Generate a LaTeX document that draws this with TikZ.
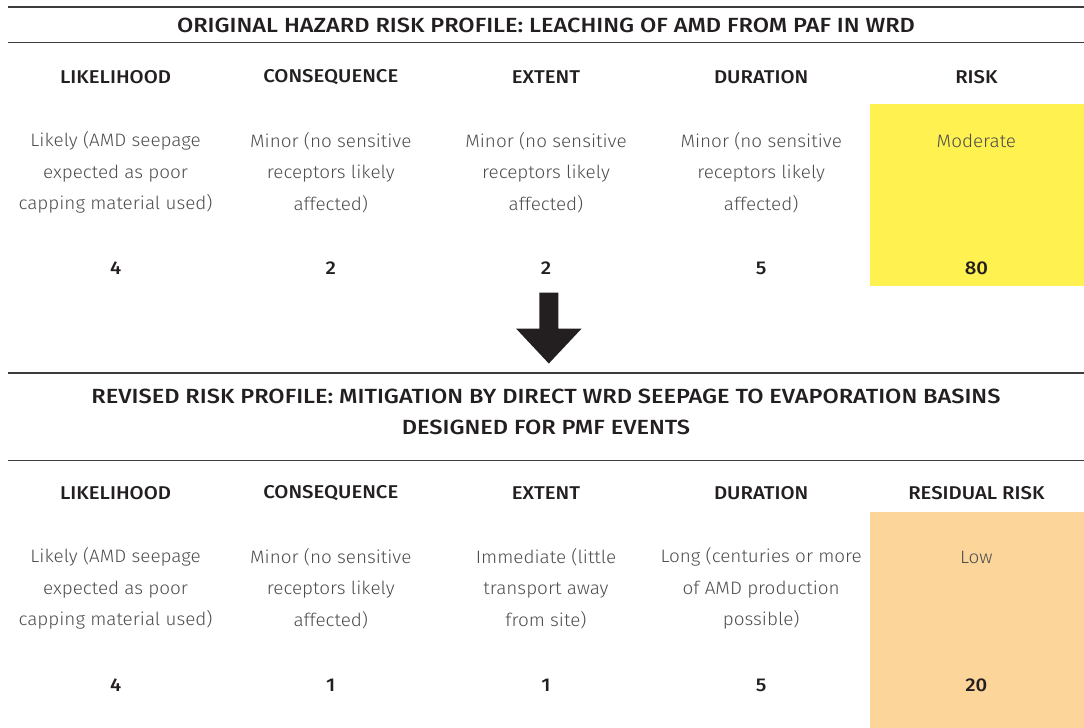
\documentclass[tikz,border=0pt]{standalone}
\usepackage{fontspec}
\setmainfont{Fira Sans}[UprightFont={* Light},BoldFont={* Medium},FakeStretch=1.05]
\newfontfamily\titlefont{Fira Sans Medium}[FakeStretch=1.15]
\newfontfamily\headfont{Fira Sans Medium}[FakeStretch=1.1]
\usetikzlibrary{positioning}
\definecolor{ink}{HTML}{231F20}
\definecolor{bodygray}{HTML}{4D4D4D}
\definecolor{rulegray}{HTML}{3C3C3C}
\definecolor{riskyellow}{HTML}{FFF14F}
\definecolor{riskpeach}{HTML}{FCD59B}
\tikzset{
  title/.style={font=\titlefont\fontsize{20.5}{31}\selectfont, text=ink, align=center, inner sep=0pt},
  colhead/.style={font=\headfont\fontsize{18.5}{20}\selectfont, text=ink, inner sep=0pt},
  body/.style={font=\fontsize{18}{31.6}\selectfont, text=bodygray, align=center, inner sep=0pt},
  num/.style={font=\headfont\fontsize{18.5}{20}\selectfont, text=ink, inner sep=0pt},
  hrule/.style={draw=rulegray, line width=1.4pt}
}
\begin{document}
\begin{tikzpicture}[x=1pt,y=-1pt]
\useasboundingbox (0,0) rectangle (1084,728);
% colored risk cells
\fill[riskyellow] (870,104) rectangle (1084,286);
\fill[riskpeach] (870,512) rectangle (1084,728);
% rules
\draw[hrule] (8,7) -- (1084,7);
\draw[hrule] (8,42.5) -- (1084,42.5);
\draw[hrule] (8,373) -- (1084,373);
\draw[hrule] (8,460.5) -- (1084,460.5);
% top table
\node[title] (t1) at (546,25) {ORIGINAL HAZARD RISK PROFILE: LEACHING OF AMD FROM PAF IN WRD};
\node[colhead] (h11) at (115.6,77) {LIKELIHOOD};
\node[colhead] (h12) at (330.8,77) {CONSEQUENCE};
\node[colhead] (h13) at (546,77) {EXTENT};
\node[colhead] (h14) at (761.2,77) {DURATION};
\node[colhead] (h15) at (976.4,77) {RISK};
\node[body] (b11) at (115.6,172.5) {Likely (AMD seepage\\expected as poor\\capping material used)};
\node[body] (b12) at (330.8,172.5) {Minor (no sensitive\\receptors likely\\affected)};
\node[body] (b13) at (546,172.5) {Minor (no sensitive\\receptors likely\\affected)};
\node[body] (b14) at (761.2,172.5) {Minor (no sensitive\\receptors likely\\affected)};
\node[body] (b15) at (976.4,141) {Moderate};
\node[num] (n11) at (115.6,268.5) {4};
\node[num] (n12) at (330.8,268.5) {2};
\node[num] (n13) at (546,268.5) {2};
\node[num] (n14) at (761.2,268.5) {5};
\node[num] (n15) at (976.4,268.5) {80};
% arrow
\fill[ink] (539.3,292.5) -- (558.3,292.5) -- (558.3,328.5) -- (581.7,328.5) -- (548.8,363.5) -- (516,328.5) -- (539.3,328.5) -- cycle;
% bottom table
\node[title] (t2) at (546,411.5) {REVISED RISK PROFILE: MITIGATION BY DIRECT WRD SEEPAGE TO EVAPORATION BASINS\\DESIGNED FOR PMF EVENTS};
\node[colhead] (h21) at (115.6,493) {LIKELIHOOD};
\node[colhead] (h22) at (330.8,493) {CONSEQUENCE};
\node[colhead] (h23) at (546,493) {EXTENT};
\node[colhead] (h24) at (761.2,493) {DURATION};
\node[colhead] (h25) at (976.4,493) {RESIDUAL RISK};
\node[body] (b21) at (115.6,588.5) {Likely (AMD seepage\\expected as poor\\capping material used)};
\node[body] (b22) at (330.8,588.5) {Minor (no sensitive\\receptors likely\\affected)};
\node[body] (b23) at (546,588.5) {Immediate (little\\transport away\\from site)};
\node[body] (b24) at (761.2,588.5) {Long (centuries or more\\of AMD production\\possible)};
\node[body] (b25) at (976.4,557) {Low};
\node[num] (n21) at (115.6,685) {4};
\node[num] (n22) at (330.8,685) {1};
\node[num] (n23) at (546,685) {1};
\node[num] (n24) at (761.2,685) {5};
\node[num] (n25) at (976.4,685) {20};
\end{tikzpicture}
\end{document}
